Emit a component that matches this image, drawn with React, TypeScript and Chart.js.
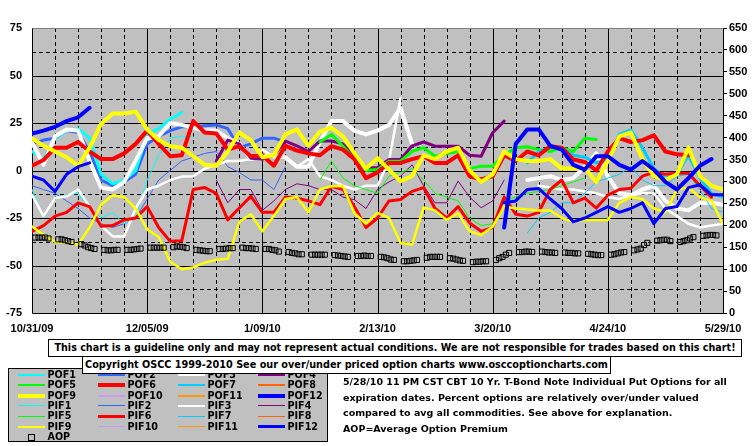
import React, { useEffect, useRef } from 'react';
import { Chart, registerables } from 'chart.js';

Chart.register(...registerables);

// ---------- data ----------
// x axis: days since 10/31/09, labels every 35 days
const X_LABELS = ['10/31/09', '12/05/09', '1/09/10', '2/13/10', '3/20/10', '4/24/10', '5/29/10'];
const DAY_STEP = 3.5; // series are sampled every 3.5 days (61 samples)

const POF1 = [10, 6, 17, 21, 22, 17, -2, -7, -5, 0, 19, 22, 27, 30.5];
const PIF1 = [-10, -25, -14, -13, -12, -20, -25, -22, -28, -25, -5, 8, 17, 18, 18];
const POF2 = [14, 16, 17, 21, 20, 10, -5, -8, -6, -2, 14, 18, 21, 23, 23, 23.5, 24, 22, 12, 14, 17, 17, 15];
const PIF2 = [-8, -10, -12, -16, -20, -25, -28, -30, -28, -25, -15, -5, 0, 5, 7, 9, 10, 2, -1, -5, -5, -10, 2];
const POF3 = [14.6, 3, 18, 21.6, 21, 5, -9, -10, -6, 5, 17, 18, 25, 24, 22.5, 21, 21, 17, 14, 6, 7.5, 8, 7, 2, 2, 15, 26, 26, 21, 19, 21, 24, 33, 14,
  null, null, null, null, null, null, null, null, null,
  -5, -4, -3, -5, -4, 2, 9, -3, -12, -13, -10, -8, -16, -20, -21, -17, -17, -18];
const PIF3 = [-12.8, -24, -14.5, -13.7, -10, -19, -29, -34.7, -34.7, -20, -10, -8, -5, -3.2, -3, 1, 3, 5, 5, 6, 11, 7, 7, 2, 6, -3, -5, -8, -10, -8, -8, 5, 38,
  null, null, null, null, null, null, null, null, null, null, null,
  -8, -9, -10, -10, -11, -12, -14, -15, -13, -12, -12, -20, -24, -28, -30, -29, -28];
const POF4 = [null, null, null, null, null, null, null, null, null, null, null, null, null, null, null, null,
  5, 16, 14, 6.5, 6, 8, 15.5, 13, 10, 15.5, 15.5, 14, 7.5, 1.4, 1.5, 5.8, 5.8, 13, 15, 12.8, 12.8, 12.8, 8, 7.5, 19.9, 26];
const PIF4 = [null, null, null, null, null, null, null, null, null, null, null, null, null, null, null, null,
  -5, -17, -10, -10, -21, -16, -10, -7, -8, -10, -10, -14, -15.4, -20, -10, -6, -3, 3, -8, -17, -17, -5.6, -14, -19.6, -16, -5];
const POF5 = [null, null, null, null, null, null, null, null, null, null, null, null, null, null, null, null, null, null, null, null, null, null, null, null, null,
  15, 19, 12.8, 5.8, 0, 0.5, 4.9, 4.9, 10, 12, 7.5, 9, 10, 1, 2.3, 2.3, 8, 12, 12.5, 11, 10, 12, 10, 17, 16.3];
const PIF5 = [null, null, null, null, null, null, null, null, null, null, null, null, null, null, null, null, null, null, null, null, null, null, null, null, null,
  -5, 5, -4, -8, -10, -12, -3, -1, 1, -5, -12, -14, -16, -25, -29, -28, -16, -14, -12, -11, -10, -8, -6, -4];
const POF6 = [2.5, 5.5, 12, 12, 15, 10, 6, 6, 9, 14, 21, 14, 7.5, 8, 26, 20, 19.5, 11, 12.8, 7.5,
  8, 2.5, 13, 10.5, 9, 8, 12.8, 11, 6, -4, -1, 4, 4, 6, 7.5, 4, 4, 8, -3, -4.7,
  -3, 8, 5, 10, 8, 12.8, 12, 5.8, 4.5, 0, 10, 17, 15, 16, 18.5, 10, 8.5, 8];
const PIF6 = [-32, -29, -24, -22, -17, -19, -29.4, -29, -26, -25, -19, -30, -37.3, -37, -10, -9, -12, -26, -19.7, -13.6,
  -22, -22, -14, -14.5, -16, -18, -8.3, -10, -19, -30, -25, -16, -15.3, -11, -9, -20, -25, -19, -27.6, -32,
  -30, -14, -23, -24, -22, -10, -5, -17, -14.5, -19.8, -13, -10, -9.3, -3, -1, -2, -1.4, -1.4, -8, -14];
const POF7 = [null, null, null, null, null, null, null, null, null, null, null, null, null, null, null, null, null, null, null, null, null,
  null, null, null, null, null, null, null, null, null, null, null, null, null, null, null, null, null, null, null, null, null, null,
  4, 10, 12, 12, 8, 7, 4, 6, 19, 21.4, 12, 1, -4, -2, 8, -4, -12, -14];
const PIF7 = [null, null, null, null, null, null, null, null, null, null, null, null, null, null, null, null, null, null, null, null, null,
  null, null, null, null, null, null, null, null, null, null, null, null, null, null, null, null, null, null, null, null, null, null,
  -33, -25, -22, -17, -17, -12, -6, -4, -2, 2, -5, -8, -8, -3, -2, -10, -20, -22];
const POF8: (number | null)[] = [];
const PIF8: (number | null)[] = [];
const POF9 = [17, 13, 10, 7, 2.5, 12, 24.5, 30, 30, 31, 21.6, 16, 12.8, 12, 7.5, 3, 2.5, 10, 20, 16,
  7, 8, 19, 21.6, 13, 20.5, 22.5, 18, 9, 1, 6.5, 0.5, -5.6, -3, 8, 6, 10, 12, 0, -6,
  -2, 10, 6, 5, 5, 6, 1, 1, 1.5, -6, 5, 18, 20, 6, -3, -5, -2, 12, -3, -8, -10];
const PIF9 = [-29.5, -34, -37.5, -38, -39, -30, -18, -13, -14, -20, -31, -35, -48, -52, -51, -48.5, -47, -46.5, -27, -23,
  -32, -24, -15, -14, -22, -10, -8.3, -8.3, -22.5, -28, -22.3, -25, -38, -39, -19.5, -21, -26, -22.5, -32, -34,
  -29.5, -19, -20, -20.5, -21, -21, -25, -27, -26, -26, -26, -17, -14, -15, -20, -22, -10, -9, -14, -16, -28];
const POF10: (number | null)[] = [];
const PIF10: (number | null)[] = [];
const POF11: (number | null)[] = [];
const PIF11: (number | null)[] = [];
const POF12 = [19.5, 21, 23, 26, 28, 33,
  null, null, null, null, null, null, null, null, null, null, null, null, null, null, null, null, null, null, null, null, null, null, null, null, null, null, null, null, null, null, null, null, null, null, null,
  -30, 14, 21.6, 21.6, 13, 11, 3, 0.5, 7.5, 7.5, 3, 0.5, 5, 0.5, -6, -10, -4, 2.5, 6, null];
const PIF12 = [-3, -5, -11, -2, 2, 4,
  null, null, null, null, null, null, null, null, null, null, null, null, null, null, null, null, null, null, null, null, null, null, null, null, null, null, null, null, null, null, null, null, null, null, null,
  -17, -16, -10, -9.5, -15, -20, -27, -25, -22, -19, -22, -20, -17, -28, -20, -19, -9, -7.5, -12.8, -12.8];

// Average option premium (right axis), one value per trading day, 5 per week
const AOP = [
  172, 172, 172, 172, 170, 168, 168, 166, 164, 162, 157, 154, 150, 148, 146, 144, 143, 143, 144, 144,
  144, 144, 145, 146, 147, 149, 149, 149, 149, 149, 150, 152, 151, 150, 148, 144, 143, 142, 141, 141,
  146, 146, 147, 148, 148, 149, 148, 148, 147, 146, 146, 146, 144, 143, 140, 139, 137, 136, 134, 134,
  133, 133, 133, 133, 133, 132, 131, 130, 129, 128, 130, 130, 131, 130, 130, 128, 127, 125, 122, 121,
  118, 118, 119, 120, 121, 126, 128, 128, 128, 128, 125, 124, 122, 120, 119, 116, 117, 117, 118, 118,
  121, 125, 128, 133, 137, 139, 139, 140, 140, 139, 140, 139, 138, 138, 137, 138, 137, 137, 136, 136,
  135, 134, 133, 132, 132, 133, 134, 136, 138, 139, 143, 145, 147, 155, 160, 165, 166, 167, 167, 164,
  162, 164, 166, 170, 173, 176, 177, 178, 178, 177,
];

const NOTE_LINES = [
  '5/28/10 11 PM CST CBT 10 Yr. T-Bond Note Individual Put Options for all',
  'expiration dates. Percent options are relatively over/under valued',
  'compared to avg all commodities. See above for explanation.',
  'AOP=Average Option Premium',
];

// ---------- styles ----------
type S = { name: string; data: (number | null)[]; color: string; w: number; lw: number; z: number };
const SERIES: S[] = [
  { name: 'POF1', data: POF1, color: '#00FFFF', w: 3, lw: 2, z: 15 },
  { name: 'POF2', data: POF2, color: '#3366FF', w: 3, lw: 2, z: 17 },
  { name: 'POF3', data: POF3, color: '#FFFFFF', w: 4, lw: 2, z: 13 },
  { name: 'POF4', data: POF4, color: '#800080', w: 3, lw: 2, z: 11 },
  { name: 'POF5', data: POF5, color: '#00FF00', w: 3, lw: 2, z: 9 },
  { name: 'POF6', data: POF6, color: '#FF0000', w: 4, lw: 4, z: 4 },
  { name: 'POF7', data: POF7, color: '#00CCFF', w: 3, lw: 2, z: 7 },
  { name: 'POF8', data: POF8, color: '#FF6600', w: 3, lw: 2, z: 20 },
  { name: 'POF9', data: POF9, color: '#FFFF00', w: 4, lw: 4, z: 3 },
  { name: 'POF10', data: POF10, color: '#CC99FF', w: 3, lw: 2, z: 21 },
  { name: 'POF11', data: POF11, color: '#FF9900', w: 3, lw: 2, z: 22 },
  { name: 'POF12', data: POF12, color: '#0000FF', w: 4, lw: 4, z: 1 },
  { name: 'PIF1', data: PIF1, color: '#00FFFF', w: 1, lw: 1, z: 16 },
  { name: 'PIF2', data: PIF2, color: '#3366FF', w: 1, lw: 1, z: 18 },
  { name: 'PIF3', data: PIF3, color: '#FFFFFF', w: 2.5, lw: 2, z: 14 },
  { name: 'PIF4', data: PIF4, color: '#800080', w: 1, lw: 1, z: 12 },
  { name: 'PIF5', data: PIF5, color: '#00FF00', w: 1, lw: 1, z: 10 },
  { name: 'PIF6', data: PIF6, color: '#FF0000', w: 3, lw: 3, z: 6 },
  { name: 'PIF7', data: PIF7, color: '#00CCFF', w: 1, lw: 1, z: 8 },
  { name: 'PIF8', data: PIF8, color: '#FF6600', w: 1, lw: 1, z: 23 },
  { name: 'PIF9', data: PIF9, color: '#FFFF00', w: 2.5, lw: 2, z: 5 },
  { name: 'PIF10', data: PIF10, color: '#CC99FF', w: 1, lw: 1, z: 24 },
  { name: 'PIF11', data: PIF11, color: '#FF9900', w: 1, lw: 1, z: 25 },
  { name: 'PIF12', data: PIF12, color: '#0000FF', w: 3, lw: 3, z: 2 },
];

const AXIS_FONT = { family: "'Liberation Sans', Arial, sans-serif", size: 11, weight: 'bold' as const };
const TEXT_FONT = "'DejaVu Sans', Verdana, sans-serif";

const crisp = (v: number) => Math.round(v) + 0.5;

const framePlugin = {
  id: 'oscFrame',
  beforeDraw(chart: any) {
    const { ctx, chartArea: a } = chart;
    ctx.save();
    ctx.fillStyle = '#FFFFFF';
    ctx.fillRect(0, 0, chart.width, chart.height);
    ctx.fillStyle = '#C0C0C0';
    ctx.fillRect(a.left, a.top, a.right - a.left, a.bottom - a.top);
    ctx.restore();
  },
  beforeDatasetsDraw(chart: any) {
    const { ctx, chartArea: a, scales } = chart;
    const xs = scales.x;
    const ys = scales.y;
    ctx.save();
    ctx.lineWidth = 1;
    ctx.strokeStyle = '#000000';
    for (let k = -5; k <= 5; k++) {
      const v = k * 12.5;
      const py = crisp(ys.getPixelForValue(v));
      ctx.setLineDash(k % 2 === 0 ? [] : [4, 3]);
      ctx.beginPath();
      ctx.moveTo(a.left, py);
      ctx.lineTo(a.right, py);
      ctx.stroke();
    }
    for (let d = 7; d < 210; d += 7) {
      const px = crisp(xs.getPixelForValue(d));
      ctx.setLineDash(d % 35 === 0 ? [] : [4, 3]);
      ctx.beginPath();
      ctx.moveTo(px, a.top);
      ctx.lineTo(px, a.bottom);
      ctx.stroke();
    }
    ctx.setLineDash([]);
    // frame
    const l = crisp(a.left), r = crisp(a.right), t = crisp(a.top), b = crisp(a.bottom);
    ctx.strokeStyle = '#808080';
    ctx.beginPath();
    ctx.moveTo(l, t);
    ctx.lineTo(r, t);
    ctx.stroke();
    ctx.strokeStyle = '#000000';
    ctx.beginPath();
    ctx.moveTo(l, t);
    ctx.lineTo(l, b);
    ctx.lineTo(r, b);
    ctx.lineTo(r, t);
    ctx.stroke();
    ctx.restore();
  },
};

export default function App() {
  const ref = useRef<HTMLCanvasElement | null>(null);

  useEffect(() => {
    if (!ref.current) return;
    const datasets: any[] = SERIES.map((s) => ({
      label: s.name,
      data: s.data.map((v, i) => ({ x: i * DAY_STEP, y: v })),
      borderColor: s.color,
      backgroundColor: s.color,
      borderWidth: s.w,
      pointRadius: 0,
      tension: 0,
      fill: false,
      spanGaps: false,
      borderJoinStyle: 'round',
      borderCapStyle: 'round',
      yAxisID: 'y',
      order: s.z,
    }));
    datasets.push({
      label: 'AOP',
      data: AOP.map((v, j) => ({ x: 7 * Math.floor(j / 5) + (j % 5) + 1, y: v })),
      showLine: false,
      pointStyle: 'rect',
      pointRadius: 3.6,
      pointBorderWidth: 1,
      pointBorderColor: '#000000',
      pointBackgroundColor: 'rgba(0,0,0,0)',
      borderColor: '#000000',
      backgroundColor: 'rgba(0,0,0,0)',
      yAxisID: 'y2',
      order: 0,
    });

    const chart = new Chart(ref.current, {
      type: 'line',
      data: { datasets },
      plugins: [framePlugin],
      options: {
        animation: false,
        responsive: false,
        devicePixelRatio: 1,
        events: [],
        layout: { padding: { top: 28, left: 0, right: 0, bottom: 0 } },
        plugins: { legend: { display: false }, tooltip: { enabled: false } },
        scales: {
          x: {
            type: 'linear',
            min: 0,
            max: 210,
            grid: { display: false, drawTicks: false },
            border: { display: false },
            ticks: {
              stepSize: 35,
              autoSkip: false,
              maxRotation: 0,
              padding: 9,
              color: '#000000',
              font: AXIS_FONT,
              callback: (v: any) => X_LABELS[Math.round(Number(v) / 35)] ?? '',
            },
            afterFit: (s: any) => {
              s.height = 133;
            },
          },
          y: {
            position: 'left',
            min: -75,
            max: 75,
            grid: { display: false, drawTicks: false },
            border: { display: false },
            ticks: { stepSize: 25, padding: 10, color: '#000000', font: AXIS_FONT },
            afterFit: (s: any) => {
              s.width = 32;
            },
          },
          y2: {
            position: 'right',
            min: 0,
            max: 650,
            grid: { display: true, drawOnChartArea: false, drawTicks: true, tickLength: 4, color: '#000000' },
            border: { display: true, color: '#000000' },
            ticks: { stepSize: 50, padding: 2, color: '#000000', font: AXIS_FONT },
            afterFit: (s: any) => {
              s.width = 32;
            },
          },
        },
      } as any,
    });
    return () => chart.destroy();
  }, []);

  const rows: S[][] = [];
  for (let r = 0; r < 6; r++) rows.push(SERIES.slice(r * 4, r * 4 + 4));

  const legendFont = { fontFamily: TEXT_FONT, fontWeight: 700, fontSize: '9.6px', lineHeight: '12px' } as const;

  return (
    <div style={{ position: 'absolute', left: 0, top: 0, width: 755, height: 446, background: '#FFFFFF', overflow: 'hidden' }}>
      <canvas ref={ref} width={755} height={446} style={{ position: 'absolute', left: 0, top: 0, width: 755, height: 446 }} />
      {/* legend */}
      <div style={{ position: 'absolute', left: 8, top: 368, width: 320, height: 74, boxSizing: 'border-box', border: '1px solid #000', background: '#C0C0C0' }} />
      {rows.map((row, r) =>
        row.map((s, c) => {
          const cy = 375 + r * 10.3;
          return (
            <React.Fragment key={s.name}>
              <div style={{ position: 'absolute', left: 18 + c * 80, top: cy - s.lw / 2, width: 27, height: s.lw, background: s.color }} />
              <div style={{ position: 'absolute', left: 47.5 + c * 80, top: cy - 6, color: '#000', whiteSpace: 'nowrap', ...legendFont }}>{s.name}</div>
            </React.Fragment>
          );
        })
      )}
      <div style={{ position: 'absolute', left: 28, top: 434, width: 5, height: 5, border: '1px solid #000' }} />
      <div style={{ position: 'absolute', left: 47.5, top: 436.7 - 6, color: '#000', ...legendFont }}>AOP</div>
      {/* disclaimer boxes */}
      <div style={{ position: 'absolute', left: 82, top: 356, width: 529, height: 18, boxSizing: 'border-box', border: '1px solid #000', background: '#fff', textAlign: 'center', fontFamily: TEXT_FONT, fontWeight: 700, fontSize: '9.7px', lineHeight: '16px', whiteSpace: 'nowrap', color: '#000' }}>
        Copyright OSCC 1999-2010 See our over/under priced option charts www.osccoptioncharts.com
      </div>
      <div style={{ position: 'absolute', left: 48, top: 339, width: 694, height: 18, boxSizing: 'border-box', border: '1px solid #000', background: '#fff', textAlign: 'center', fontFamily: TEXT_FONT, fontWeight: 700, fontSize: '9.6px', lineHeight: '16px', whiteSpace: 'nowrap', color: '#000' }}>
        This chart is a guideline only and may not represent actual conditions. We are not responsible for trades based on this chart!
      </div>
      <div style={{ position: 'absolute', left: 343, top: 374, fontFamily: TEXT_FONT, fontWeight: 700, fontSize: '9.5px', lineHeight: '15.5px', whiteSpace: 'pre', color: '#000' }}>
        {NOTE_LINES.map((t) => (
          <div key={t}>{t}</div>
        ))}
      </div>
    </div>
  );
}
